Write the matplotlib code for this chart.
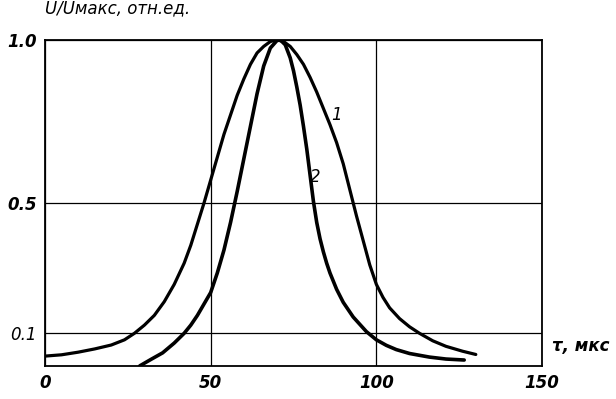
import matplotlib
matplotlib.use('Agg')
import matplotlib.pyplot as plt

# curve 1 (wide pulse)
tau_1 = [0, 5, 10, 15, 20, 24, 27, 30, 33, 36, 39, 42, 44, 46, 48, 50, 52, 54, 56, 58,
         60, 62, 64, 66, 68, 70, 72, 74, 76, 78, 80, 82, 84, 86, 88, 90, 92, 94, 96, 98,
         100, 102, 104, 107, 110, 113, 117, 121, 126, 130]
u_1 = [0.03, 0.034, 0.042, 0.052, 0.064, 0.08, 0.10, 0.125, 0.155, 0.197, 0.25, 0.315,
       0.37, 0.435, 0.50, 0.57, 0.64, 0.71, 0.77, 0.83, 0.88, 0.925, 0.96, 0.98, 0.995,
       1.0, 0.995, 0.98, 0.955, 0.925, 0.885, 0.84, 0.79, 0.74, 0.685, 0.62, 0.54, 0.46,
       0.385, 0.31, 0.25, 0.21, 0.178, 0.145, 0.12, 0.10, 0.077, 0.06, 0.045, 0.035]

# curve 2 (narrow pulse)
tau_2 = [28.6, 32, 35.5, 39, 42, 44, 46, 48, 50, 52, 54, 56, 58, 60, 62, 64, 66, 68, 70,
         71, 72.5, 74, 75, 76, 77, 78, 79, 80, 81, 82, 83, 84, 85, 86, 88, 90, 93, 97,
         100, 103, 106, 110, 116, 121, 126.5]
u_2 = [0.0, 0.02, 0.04, 0.07, 0.10, 0.125, 0.155, 0.19, 0.225, 0.285, 0.355, 0.44, 0.535,
       0.635, 0.735, 0.835, 0.92, 0.975, 0.998, 1.0, 0.985, 0.945, 0.905, 0.855, 0.80,
       0.735, 0.665, 0.585, 0.505, 0.44, 0.39, 0.35, 0.315, 0.285, 0.235, 0.195, 0.15,
       0.105, 0.08, 0.063, 0.05, 0.038, 0.027, 0.021, 0.018]

x_ticks = [0, 50, 100, 150]
x_tick_labels = ['0', '50', '100', '150']
y_ticks = [0.1, 0.5, 1.0]
y_tick_labels = ['0.1', '0.5', '1.0']

fig = plt.figure(figsize=(6.16, 3.99), dpi=100)
ax = fig.add_axes([0.073, 0.083, 0.807, 0.817])

ax.plot(tau_1, u_1, color='black', linewidth=2.3,
        solid_capstyle='round', solid_joinstyle='round')
ax.plot(tau_2, u_2, color='black', linewidth=2.6,
        solid_capstyle='round', solid_joinstyle='round')

ax.set_xlim(0, 150)
ax.set_ylim(0, 1.0)

ax.set_xticks(x_ticks)
ax.set_xticklabels(x_tick_labels, fontsize=12, fontweight='bold', style='italic')
ax.set_yticks(y_ticks)
ax.set_yticklabels(y_tick_labels, fontsize=12, fontweight='bold', style='italic')
ax.get_yticklabels()[0].set_fontweight('normal')
ax.tick_params(length=0, pad=6)

ax.grid(True, color='black', linewidth=0.9)
for s in ax.spines.values():
    s.set_color('black')
    s.set_linewidth(1.3)

ax.text(88, 0.77, '1', fontsize=12, style='italic', ha='center', va='center')
ax.text(81.6, 0.58, '2', fontsize=12, style='italic', ha='center', va='center')

ax.text(0.0, 1.07, 'U/Uмакс, отн.ед.', transform=ax.transAxes, fontsize=12,
        style='italic', ha='left', va='bottom')
ax.text(1.02, 0.06, 'τ, мкс', transform=ax.transAxes, fontsize=12,
        fontweight='bold', style='italic', ha='left', va='center')

plt.savefig('out.png', dpi=100)
